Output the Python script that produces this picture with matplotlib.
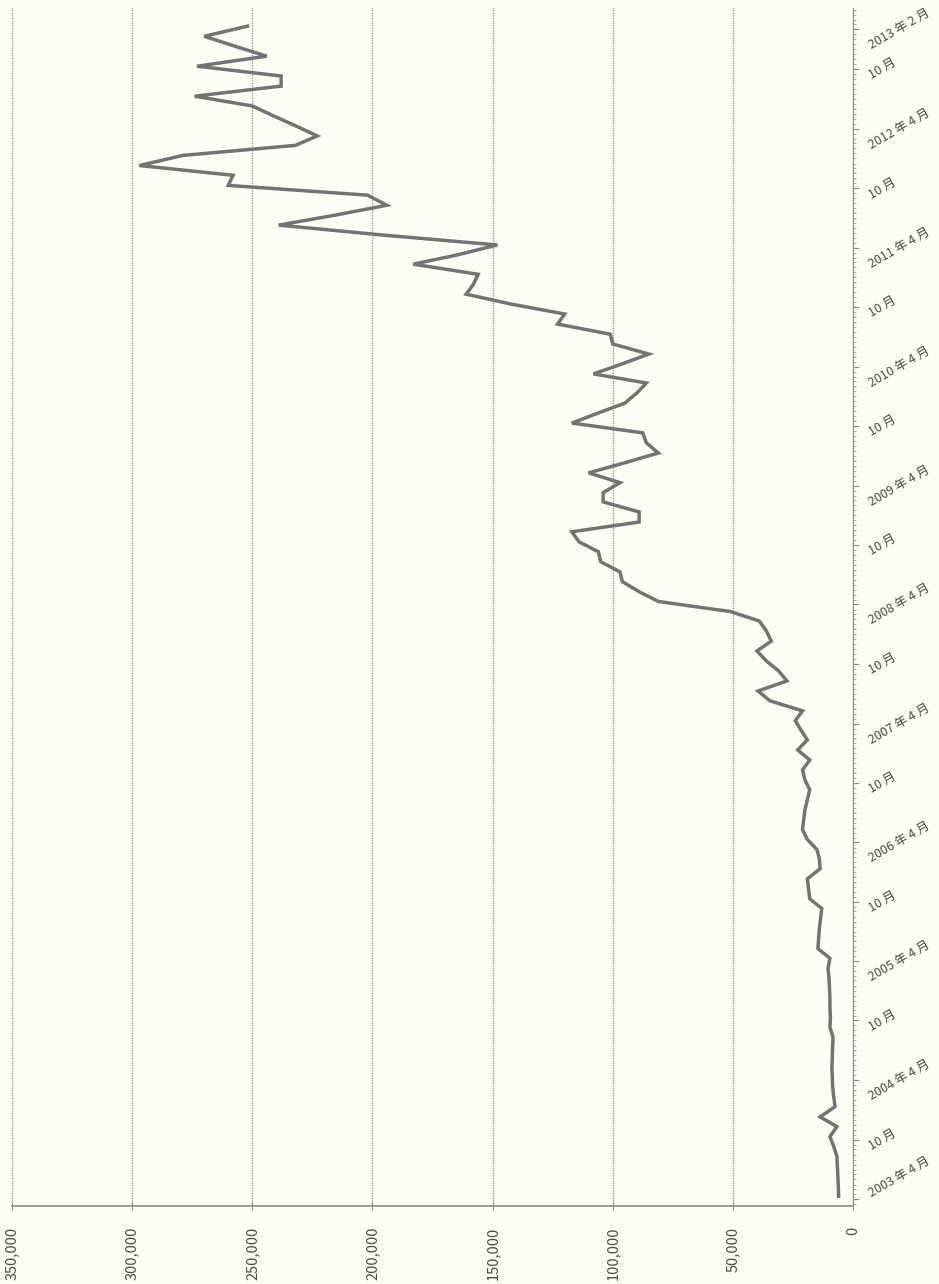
import pandas as pd
import matplotlib.pyplot as plt
import matplotlib.dates as mdates

plt.rcParams['font.family'] = ['Noto Sans CJK JP', 'DejaVu Sans']

# monthly values, 2003-04 .. 2013-02 (figures sit a little after the 1st of each month)
months = pd.date_range('2003-04-01', '2013-02-01', freq='MS') + pd.Timedelta(days=9)
values = [
    6000, 6100, 6300, 6500, 6700, 8000, 9600, 6700, 13700, 7500,
    8000, 8500, 8600, 8800, 8600, 8500, 8300, 9600, 9400, 9600,
    9600, 9800, 10000, 10400, 9600, 14600, 14300, 14000, 13500, 13000,
    18000, 18500, 19000, 13700, 14000, 15000, 19000, 21000, 20500, 20000,
    19000, 18000, 20000, 21000, 18000, 23000, 19000, 21500, 24000, 21000,
    34600, 39500, 27500, 31000, 36000, 40000, 34000, 36000, 39000, 51000,
    81000, 89000, 96000, 97000, 105000, 106000, 114000, 117000, 89000, 89000,
    104000, 104000, 97000, 110000, 95000, 81000, 86000, 87500, 117000, 106000,
    95000, 90000, 86000, 108000, 96000, 85000, 100000, 101000, 123000, 120000,
    142000, 161000, 158000, 156000, 183000, 165000, 148000, 195000, 239000, 216000,
    194000, 202000, 260000, 258000, 297000, 279000, 232000, 223000, 232000, 241000,
    250000, 274000, 238000, 238000, 273000, 244000, 257000, 270000, 252000,
]

value_ticks = [0, 50000, 100000, 150000, 200000, 250000, 300000, 350000]
value_labels = ['0', '50,000', '100,000', '150,000', '200,000', '250,000', '300,000', '350,000']

date_ticks = ['2003-04', '2003-10', '2004-04', '2004-10', '2005-04', '2005-10',
              '2006-04', '2006-10', '2007-04', '2007-10', '2008-04', '2008-10',
              '2009-04', '2009-10', '2010-04', '2010-10', '2011-04', '2011-10',
              '2012-04', '2012-10', '2013-02']
date_labels = ['2003 年 4 月', '10 月', '2004 年 4 月', '10 月', '2005 年 4 月', '10 月',
               '2006 年 4 月', '10 月', '2007 年 4 月', '10 月', '2008 年 4 月', '10 月',
               '2009 年 4 月', '10 月', '2010 年 4 月', '10 月', '2011 年 4 月', '10 月',
               '2012 年 4 月', '10 月', '2013 年 2 月']

bg = '#fdfdf3'
fig = plt.figure(figsize=(9.39, 12.84), dpi=100, facecolor=bg)
ax = fig.add_axes([0.0128, 0.0607, 0.8956, 0.9331], facecolor=bg)

ax.plot(values, months, color='#737373', lw=2.5, solid_joinstyle='miter')

ax.set_xlim(350000, 0)
ax.set_ylim(pd.Timestamp('2003-03-11'), pd.Timestamp('2013-04-07'))

# value axis (bottom, labels turned 90 degrees)
ax.set_xticks(value_ticks)
ax.set_xticklabels(value_labels, rotation=90, fontsize=10.5, color='#4a4a4a')
ax.tick_params(axis='x', length=6, width=0.8, color='#8c8c8c', direction='inout', pad=12)
ax.grid(axis='x', color='#8a8a8a', linestyle=(0, (1, 1)), lw=0.9)

# date axis (right side)
ax.yaxis.tick_right()
ax.set_yticks(pd.to_datetime(date_ticks))
ax.set_yticklabels(date_labels, fontsize=9, color='#4a4a4a')
ax.yaxis.set_minor_locator(mdates.DayLocator(bymonthday=[1, 16]))
ax.tick_params(axis='y', which='major', length=4, width=0.8, color='#888888', pad=6)
ax.tick_params(axis='y', which='minor', length=2.5, width=0.6, color='#999999')
plt.setp(ax.get_yticklabels(), rotation=30, ha='left', va='center', rotation_mode='default')
ax.get_yticklabels()[0].set_va('bottom')

for s in ['top', 'left']:
    ax.spines[s].set_visible(False)
ax.spines['right'].set_linestyle((0, (1, 1)))
ax.spines['right'].set_color('#888888')
ax.spines['bottom'].set_color('#8c8c8c')
ax.spines['bottom'].set_linewidth(1.2)

fig.savefig('out.png', dpi=100, facecolor=bg)
